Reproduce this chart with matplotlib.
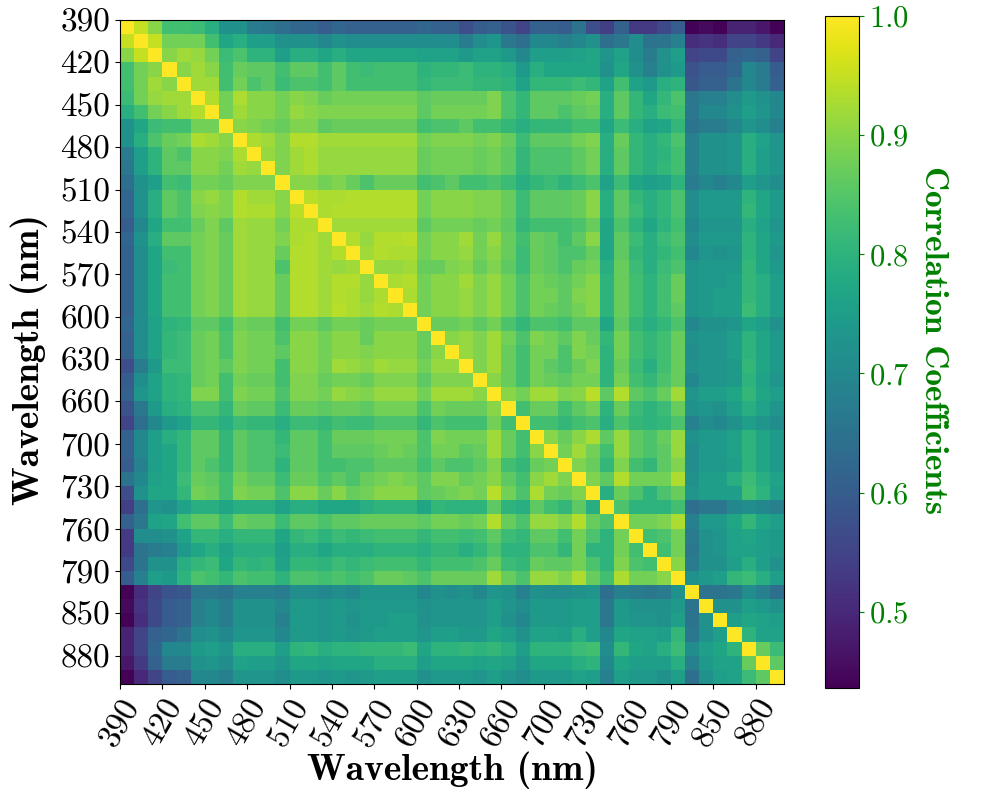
import numpy as np
import matplotlib
matplotlib.use("Agg")
import matplotlib.pyplot as plt

# wavelengths of the 47 bands (every third one is labelled)
wavelengths = [390, 400, 410, 420, 430, 440, 450, 460, 470, 480, 490, 500, 510, 520, 530,
               540, 550, 560, 570, 580, 590, 600, 610, 620, 630, 640, 650, 660, 670, 680,
               700, 710, 720, 730, 740, 750, 760, 770, 780, 790, 810, 830, 850, 860, 870,
               880, 890]

# upper triangle of the correlation matrix, row i holds columns i+1 .. 46
upper = [
    [0.95, 0.90, 0.83, 0.83, 0.82, 0.79, 0.72, 0.72, 0.67, 0.66, 0.64, 0.62, 0.62, 0.60, 0.62,
     0.61, 0.61, 0.61, 0.61, 0.61, 0.62, 0.61, 0.61, 0.57, 0.60, 0.61, 0.58, 0.55, 0.61, 0.61, 0.60,
     0.65, 0.57, 0.54, 0.61, 0.53, 0.53, 0.56, 0.60, 0.44, 0.45, 0.44, 0.49, 0.49, 0.47, 0.44],
    [0.95, 0.88, 0.88, 0.88, 0.83, 0.77, 0.79, 0.75, 0.75, 0.72, 0.72, 0.72, 0.70, 0.72,
     0.71, 0.71, 0.71, 0.71, 0.71, 0.71, 0.71, 0.71, 0.67, 0.71, 0.73, 0.66, 0.64, 0.70, 0.70, 0.68,
     0.70, 0.72, 0.64, 0.66, 0.71, 0.65, 0.65, 0.68, 0.51, 0.52, 0.51, 0.55, 0.55, 0.53, 0.50],
    [0.90, 0.92, 0.91, 0.88, 0.82, 0.84, 0.80, 0.80, 0.75, 0.79, 0.79, 0.77, 0.79,
     0.77, 0.77, 0.77, 0.77, 0.77, 0.76, 0.76, 0.76, 0.74, 0.76, 0.76, 0.74, 0.70, 0.75, 0.75, 0.75,
     0.76, 0.77, 0.73, 0.76, 0.71, 0.67, 0.72, 0.75, 0.55, 0.56, 0.56, 0.61, 0.62, 0.61, 0.55],
    [0.90, 0.92, 0.90, 0.83, 0.87, 0.86, 0.86, 0.83, 0.86, 0.86, 0.83, 0.86,
     0.83, 0.82, 0.83, 0.83, 0.83, 0.80, 0.81, 0.81, 0.82, 0.80, 0.80, 0.79, 0.74, 0.79, 0.77, 0.77,
     0.77, 0.77, 0.72, 0.77, 0.72, 0.68, 0.72, 0.74, 0.58, 0.60, 0.60, 0.62, 0.70, 0.67, 0.60],
    [0.92, 0.92, 0.83, 0.88, 0.84, 0.86, 0.82, 0.84, 0.84, 0.83, 0.86,
     0.83, 0.83, 0.83, 0.83, 0.83, 0.81, 0.82, 0.82, 0.82, 0.81, 0.81, 0.80, 0.76, 0.81, 0.81, 0.81,
     0.82, 0.81, 0.76, 0.83, 0.76, 0.74, 0.79, 0.80, 0.59, 0.61, 0.61, 0.65, 0.70, 0.67, 0.61],
    [0.935, 0.88, 0.93, 0.90, 0.90, 0.88, 0.90, 0.89, 0.87, 0.88,
     0.88, 0.88, 0.88, 0.88, 0.88, 0.86, 0.87, 0.87, 0.87, 0.87, 0.89, 0.84, 0.81, 0.86, 0.86, 0.86,
     0.87, 0.88, 0.79, 0.86, 0.81, 0.77, 0.81, 0.84, 0.66, 0.68, 0.68, 0.71, 0.74, 0.72, 0.70],
    [0.88, 0.92, 0.90, 0.90, 0.88, 0.91, 0.90, 0.89, 0.89,
     0.89, 0.89, 0.89, 0.89, 0.89, 0.86, 0.88, 0.88, 0.88, 0.88, 0.89, 0.84, 0.81, 0.86, 0.86, 0.84,
     0.86, 0.87, 0.79, 0.86, 0.81, 0.79, 0.82, 0.83, 0.66, 0.70, 0.70, 0.72, 0.75, 0.73, 0.70],
    [0.90, 0.89, 0.88, 0.87, 0.89, 0.89, 0.86, 0.87,
     0.87, 0.87, 0.87, 0.87, 0.87, 0.83, 0.84, 0.84, 0.86, 0.83, 0.83, 0.81, 0.79, 0.81, 0.81, 0.81,
     0.83, 0.83, 0.77, 0.82, 0.79, 0.76, 0.77, 0.81, 0.65, 0.67, 0.67, 0.70, 0.73, 0.71, 0.68],
    [0.93, 0.92, 0.89, 0.935, 0.935, 0.92, 0.92,
     0.92, 0.92, 0.92, 0.92, 0.92, 0.88, 0.89, 0.89, 0.89, 0.88, 0.89, 0.87, 0.82, 0.86, 0.86, 0.86,
     0.88, 0.89, 0.79, 0.87, 0.81, 0.79, 0.81, 0.84, 0.68, 0.72, 0.72, 0.73, 0.79, 0.76, 0.73],
    [0.91, 0.89, 0.92, 0.93, 0.91, 0.91,
     0.91, 0.91, 0.91, 0.91, 0.91, 0.87, 0.88, 0.88, 0.88, 0.87, 0.88, 0.86, 0.81, 0.84, 0.84, 0.84,
     0.86, 0.88, 0.79, 0.86, 0.81, 0.79, 0.80, 0.83, 0.68, 0.72, 0.72, 0.73, 0.79, 0.75, 0.73],
    [0.89, 0.92, 0.93, 0.91, 0.91,
     0.91, 0.91, 0.91, 0.91, 0.91, 0.87, 0.88, 0.88, 0.88, 0.87, 0.88, 0.86, 0.81, 0.84, 0.84, 0.84,
     0.86, 0.88, 0.79, 0.86, 0.81, 0.79, 0.81, 0.83, 0.68, 0.72, 0.72, 0.73, 0.79, 0.75, 0.73],
    [0.90, 0.90, 0.88, 0.89,
     0.87, 0.84, 0.87, 0.87, 0.87, 0.83, 0.84, 0.86, 0.83, 0.83, 0.84, 0.82, 0.79, 0.81, 0.82, 0.80,
     0.82, 0.84, 0.76, 0.82, 0.77, 0.75, 0.76, 0.80, 0.67, 0.70, 0.68, 0.70, 0.75, 0.73, 0.71],
    [0.94, 0.93, 0.93,
     0.935, 0.935, 0.935, 0.935, 0.935, 0.88, 0.90, 0.90, 0.90, 0.89, 0.89, 0.87, 0.82, 0.86, 0.86, 0.86,
     0.87, 0.90, 0.79, 0.86, 0.81, 0.79, 0.81, 0.84, 0.71, 0.74, 0.74, 0.74, 0.80, 0.77, 0.74],
    [0.93, 0.935,
     0.935, 0.935, 0.935, 0.935, 0.935, 0.88, 0.90, 0.90, 0.90, 0.89, 0.89, 0.87, 0.82, 0.86, 0.86, 0.86,
     0.87, 0.90, 0.79, 0.86, 0.82, 0.79, 0.81, 0.84, 0.71, 0.74, 0.74, 0.74, 0.81, 0.77, 0.74],
    [0.92,
     0.92, 0.92, 0.92, 0.92, 0.92, 0.86, 0.88, 0.88, 0.88, 0.87, 0.88, 0.86, 0.81, 0.83, 0.83, 0.83,
     0.84, 0.87, 0.77, 0.84, 0.80, 0.77, 0.80, 0.83, 0.70, 0.73, 0.73, 0.73, 0.79, 0.76, 0.73],
    [0.935, 0.91, 0.935, 0.935, 0.94, 0.88, 0.90, 0.90, 0.92, 0.88, 0.91, 0.87, 0.83, 0.87, 0.86, 0.83,
     0.86, 0.90, 0.77, 0.86, 0.82, 0.79, 0.82, 0.84, 0.71, 0.74, 0.74, 0.74, 0.80, 0.77, 0.74],
    [0.92, 0.935, 0.93, 0.93, 0.88, 0.90, 0.90, 0.91, 0.88, 0.90, 0.87, 0.82, 0.87, 0.86, 0.84,
     0.84, 0.87, 0.77, 0.86, 0.81, 0.79, 0.81, 0.83, 0.70, 0.73, 0.72, 0.73, 0.80, 0.77, 0.73],
    [0.91, 0.91, 0.92, 0.87, 0.87, 0.89, 0.90, 0.87, 0.89, 0.86, 0.82, 0.87, 0.86, 0.84,
     0.87, 0.88, 0.79, 0.87, 0.82, 0.79, 0.82, 0.84, 0.73, 0.74, 0.74, 0.74, 0.81, 0.77, 0.74],
    [0.93, 0.935, 0.88, 0.90, 0.90, 0.92, 0.89, 0.91, 0.88, 0.84, 0.88, 0.87, 0.86,
     0.88, 0.90, 0.80, 0.87, 0.83, 0.80, 0.83, 0.87, 0.73, 0.74, 0.74, 0.75, 0.81, 0.79, 0.75],
    [0.93, 0.88, 0.90, 0.90, 0.91, 0.89, 0.91, 0.88, 0.84, 0.88, 0.88, 0.86,
     0.89, 0.90, 0.80, 0.87, 0.83, 0.80, 0.83, 0.87, 0.73, 0.74, 0.75, 0.75, 0.81, 0.79, 0.75],
    [0.88, 0.90, 0.90, 0.91, 0.89, 0.91, 0.88, 0.84, 0.88, 0.87, 0.86,
     0.88, 0.90, 0.80, 0.87, 0.83, 0.80, 0.83, 0.86, 0.73, 0.74, 0.75, 0.75, 0.82, 0.79, 0.75],
    [0.87, 0.87, 0.88, 0.86, 0.88, 0.84, 0.81, 0.84, 0.84, 0.83,
     0.86, 0.86, 0.77, 0.86, 0.81, 0.79, 0.81, 0.84, 0.70, 0.72, 0.72, 0.73, 0.77, 0.75, 0.72],
    [0.90, 0.91, 0.89, 0.92, 0.88, 0.84, 0.89, 0.88, 0.86,
     0.89, 0.87, 0.81, 0.88, 0.83, 0.81, 0.83, 0.87, 0.72, 0.73, 0.73, 0.75, 0.80, 0.77, 0.74],
    [0.91, 0.89, 0.92, 0.87, 0.83, 0.88, 0.88, 0.84,
     0.89, 0.88, 0.80, 0.88, 0.83, 0.81, 0.83, 0.87, 0.71, 0.73, 0.73, 0.75, 0.80, 0.77, 0.74],
    [0.89, 0.92, 0.87, 0.83, 0.88, 0.86, 0.84,
     0.87, 0.89, 0.80, 0.87, 0.82, 0.79, 0.83, 0.87, 0.72, 0.73, 0.73, 0.74, 0.81, 0.77, 0.74],
    [0.90, 0.87, 0.83, 0.88, 0.87, 0.86,
     0.88, 0.88, 0.80, 0.88, 0.83, 0.81, 0.84, 0.87, 0.70, 0.73, 0.73, 0.74, 0.80, 0.76, 0.73],
    [0.90, 0.88, 0.92, 0.92, 0.89,
     0.90, 0.94, 0.86, 0.935, 0.86, 0.84, 0.87, 0.92, 0.73, 0.75, 0.75, 0.77, 0.81, 0.77, 0.75],
    [0.83, 0.87, 0.87, 0.83,
     0.86, 0.88, 0.80, 0.87, 0.82, 0.80, 0.82, 0.87, 0.72, 0.73, 0.72, 0.75, 0.79, 0.76, 0.73],
    [0.83, 0.83, 0.81,
     0.83, 0.84, 0.79, 0.84, 0.81, 0.80, 0.81, 0.84, 0.68, 0.71, 0.70, 0.72, 0.75, 0.73, 0.71],
    [0.90, 0.87,
     0.90, 0.93, 0.86, 0.91, 0.86, 0.84, 0.87, 0.91, 0.72, 0.74, 0.74, 0.76, 0.80, 0.77, 0.74],
    [0.88,
     0.92, 0.88, 0.83, 0.91, 0.86, 0.84, 0.86, 0.91, 0.71, 0.74, 0.74, 0.76, 0.80, 0.77, 0.74],
    [0.89, 0.87, 0.81, 0.89, 0.83, 0.81, 0.86, 0.89, 0.71, 0.74, 0.74, 0.75, 0.80, 0.77, 0.74],
    [0.89, 0.86, 0.935, 0.88, 0.88, 0.88, 0.93, 0.72, 0.75, 0.75, 0.79, 0.82, 0.79, 0.76],
    [0.79, 0.87, 0.84, 0.80, 0.84, 0.87, 0.73, 0.75, 0.75, 0.75, 0.83, 0.80, 0.75],
    [0.84, 0.80, 0.80, 0.80, 0.83, 0.64, 0.66, 0.66, 0.70, 0.71, 0.70, 0.68],
    [0.88, 0.88, 0.89, 0.93, 0.68, 0.74, 0.74, 0.77, 0.81, 0.77, 0.75],
    [0.83, 0.84, 0.88, 0.67, 0.72, 0.73, 0.76, 0.77, 0.75, 0.74],
    [0.83, 0.88, 0.66, 0.72, 0.73, 0.76, 0.76, 0.75, 0.74],
    [0.90, 0.67, 0.72, 0.72, 0.75, 0.79, 0.75, 0.72],
    [0.72, 0.74, 0.75, 0.81, 0.82, 0.79, 0.75],
    [0.65, 0.65, 0.66, 0.71, 0.68, 0.64],
    [0.72, 0.72, 0.75, 0.74, 0.72],
    [0.75, 0.77, 0.76, 0.75],
    [0.80, 0.76, 0.76],
    [0.87, 0.82],
    [0.86],
]

n = len(wavelengths)
corr = np.eye(n)
for i, row in enumerate(upper):
    corr[i, i + 1:] = row
    corr[i + 1:, i] = row

plt.rcParams["font.family"] = "cmr10"
plt.rcParams["mathtext.fontset"] = "cm"
plt.rcParams["axes.formatter.use_mathtext"] = True

fig = plt.figure(figsize=(10, 8), dpi=100)
ax = fig.add_axes([0.12, 0.145, 0.664, 0.83])
cax = fig.add_axes([0.825, 0.14, 0.034, 0.84])

mesh = ax.pcolormesh(corr, cmap="viridis", vmin=0.436, vmax=1.0)
ax.set_xlim(0, n)
ax.set_ylim(n, 0)

ticks = np.arange(0, n, 3)
ax.set_xticks(ticks)
ax.set_xticklabels([str(wavelengths[i]) for i in ticks], rotation=60, fontsize=24)
ax.set_yticks(ticks)
ax.set_yticklabels([str(wavelengths[i]) for i in ticks], fontsize=24)

ax.set_xlabel("Wavelength (nm)", fontfamily="cmb10", fontsize=27, labelpad=0)
ax.set_ylabel("Wavelength (nm)", fontfamily="cmb10", fontsize=27,
              ha="center", va="center")
ax.yaxis.set_label_coords(-0.137, 0.488)

cb = fig.colorbar(mesh, cax=cax)
cb.set_ticks([0.5, 0.6, 0.7, 0.8, 0.9, 1.0])
cb.ax.tick_params(labelsize=22, colors="green")
cb.set_label("Correlation Coefficients", fontfamily="cmb10", fontsize=24,
             color="green", rotation=270, ha="center", va="center")
cb.ax.yaxis.set_label_coords(3.2, 0.518)

plt.savefig("out.png", dpi=100)
